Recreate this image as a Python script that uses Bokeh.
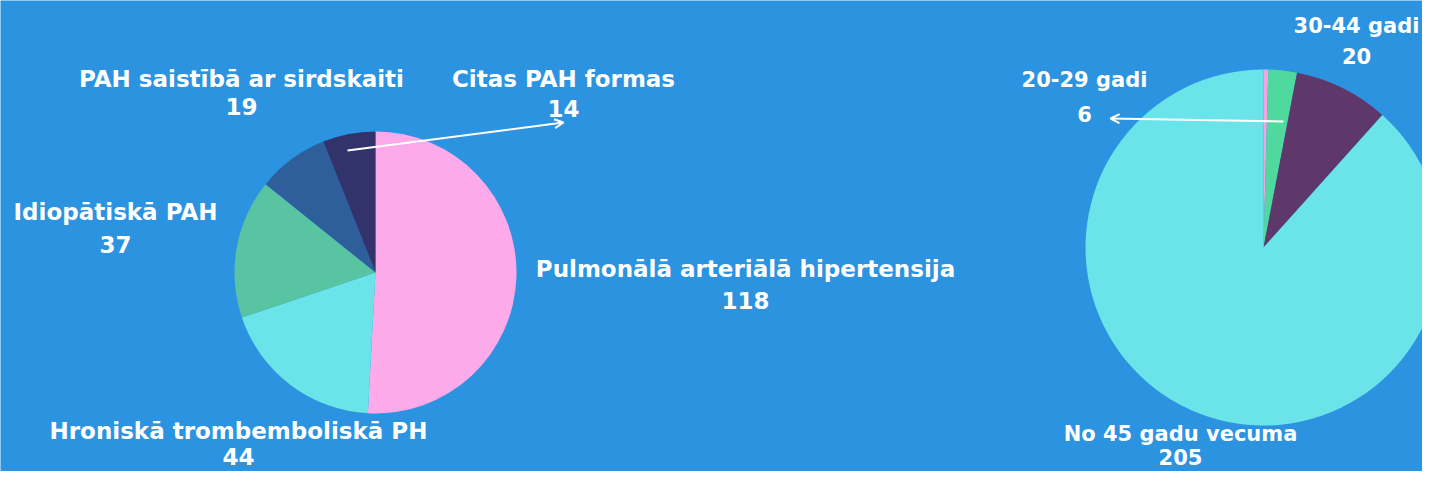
import numpy as np
from bokeh.plotting import figure
from bokeh.models import Range1d, Arrow, OpenHead, ColumnDataSource
from bokeh.core.properties import value
from bokeh.embed import file_html
from bokeh.resources import INLINE

# ---- data ----
left_categories = ["Pulmonālā arteriālā hipertensija", "Hroniskā trombemboliskā PH",
                   "Idiopātiskā PAH", "PAH saistībā ar sirdskaiti", "Citas PAH formas"]
left_values = [118, 44, 37, 19, 14]
left_colors = ["#fdaaea", "#6ae4e8", "#58c4a2", "#2e5f9b", "#32336b"]

right_categories = ["Līdz 20 gadiem", "20-29 gadi", "30-44 gadi", "No 45 gadu vecuma"]
right_values = [1, 6, 20, 205]
right_colors = ["#f7a3e3", "#4fd99f", "#5e386a", "#6ae4e8"]
right_labelled = [False, True, True, True]

BG = "#2b93e0"
W, H = 1422, 471

def py(y):
    return H - y

p = figure(width=W, height=H, output_backend="svg", toolbar_location=None,
           x_range=Range1d(0, W), y_range=Range1d(0, H), min_border=0)
p.axis.visible = False
p.grid.visible = False
p.outline_line_color = None
p.background_fill_color = BG
p.border_fill_color = BG

def pie(values, colors, cx, cy, r):
    v = np.array(values, dtype=float)
    ang = v / v.sum() * 2 * np.pi
    cum = np.concatenate([[0], np.cumsum(ang)])
    start = np.pi / 2 - cum[:-1]
    end = np.pi / 2 - cum[1:]
    src = ColumnDataSource(dict(x=[cx] * len(v), y=[py(cy)] * len(v),
                                start=start, end=end, color=colors))
    p.wedge(x="x", y="y", radius=r, start_angle="start", end_angle="end",
            direction="clock", fill_color="color", line_color=None, source=src)

pie(left_values, left_colors, 375, 272, 141)
pie(right_values, right_colors, 1263, 247, 178)

def label(name, val, x, y1, y2, fs):
    for t, yy in ((name, y1), (str(val), y2)):
        p.text(x=[x], y=[py(yy)], text=[t], text_align="center", text_baseline="middle",
               text_color="white", text_font=value("DejaVu Sans"), text_font_style="bold",
               text_font_size=fs)

left_pos = [(745, 268, 300), (238, 430, 456), (115, 211, 244), (241, 78, 106), (563, 78, 108)]
for name, val, (x, a, b) in zip(left_categories, left_values, left_pos):
    label(name, val, x, a, b, "23px")

right_pos = [None, (1084, 79, 113), (1356, 25, 55), (1180, 433, 456)]
for name, val, pos, show in zip(right_categories, right_values, right_pos, right_labelled):
    if show:
        label(name, val, pos[0], pos[1], pos[2], "21px")

p.add_layout(Arrow(end=OpenHead(size=9, line_color="white", line_width=2),
                   x_start=347, y_start=py(150), x_end=563, y_end=py(122),
                   line_color="white", line_width=2))
p.add_layout(Arrow(end=OpenHead(size=9, line_color="white", line_width=2),
                   x_start=1283, y_start=py(121), x_end=1110, y_end=py(118),
                   line_color="white", line_width=2))

html = file_html(p, INLINE)
html = html.replace("<body>", '<body style="background:%s">' % BG, 1)
open("out.html", "w").write(html)
